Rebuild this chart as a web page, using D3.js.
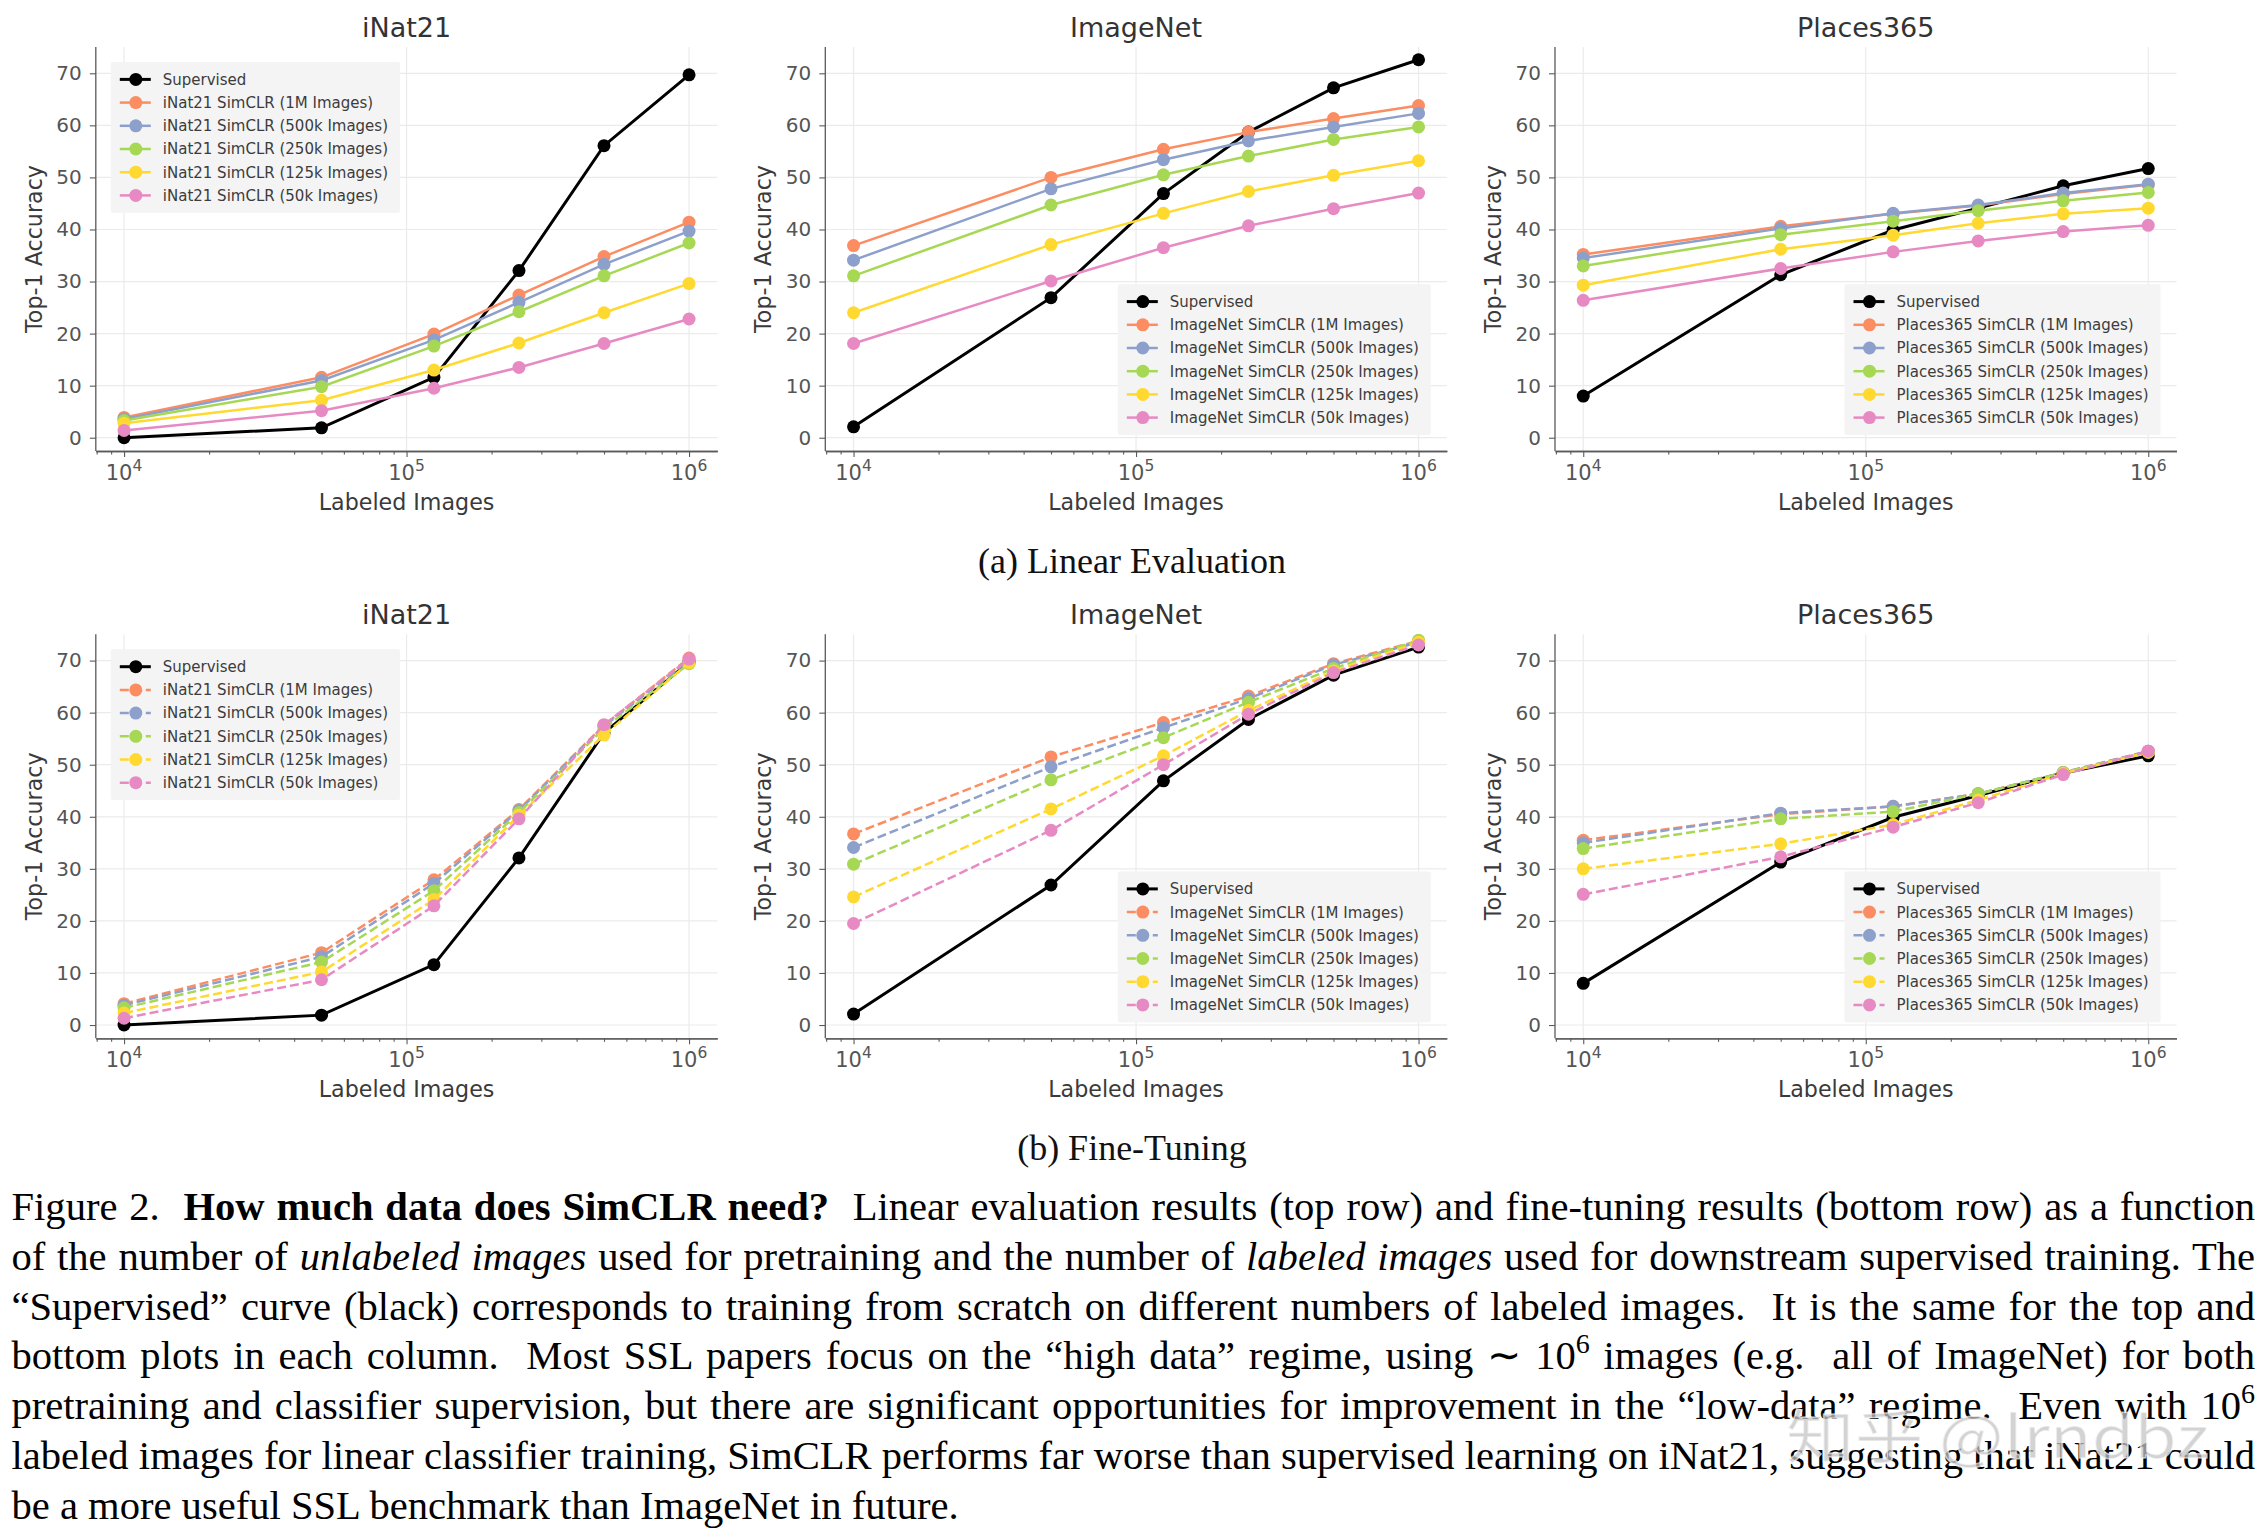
<!DOCTYPE html>
<html><head><meta charset="utf-8">
<script src="https://cdn.jsdelivr.net/npm/d3@7/dist/d3.min.js"></script>
<style>body{margin:0;background:#fff}svg{display:block}</style>
</head><body>
<svg id="chart" width="2264" height="1534"></svg>
<script>
// ---------------- data ----------------
const labeledImages = [1e4, 5e4, 1.25e5, 2.5e5, 5e5, 1e6];
const datasets = ["iNat21", "ImageNet", "Places365"];
const pretrainSizes = ["1M", "500k", "250k", "125k", "50k"];
const yTickValues = [0, 10, 20, 30, 40, 50, 60, 70];
const xTickExponents = [4, 5, 6];

const supervisedINat21 = [0.0, 1.9, 11.6, 32.1, 56.1, 69.7];
const supervisedImageNet = [2.1, 26.9, 46.9, 58.7, 67.2, 72.6];
const supervisedPlaces365 = [8.0, 31.3, 39.9, 44.1, 48.4, 51.7];

const linearINat21 = [
  [3.9, 11.6, 19.9, 27.4, 34.8, 41.4],
  [3.6, 11.0, 18.8, 26.0, 33.3, 39.7],
  [3.3, 9.8, 17.6, 24.2, 31.1, 37.4],
  [2.8, 7.2, 13.0, 18.2, 24.0, 29.6],
  [1.4, 5.2, 9.5, 13.5, 18.1, 22.8]];
const linearImageNet = [
  [36.9, 50.0, 55.4, 58.7, 61.3, 63.8],
  [34.1, 47.8, 53.4, 57.0, 59.7, 62.3],
  [31.1, 44.7, 50.5, 54.1, 57.3, 59.7],
  [24.0, 37.1, 43.1, 47.3, 50.4, 53.2],
  [18.1, 30.1, 36.5, 40.7, 44.0, 47.0]];
const linearPlaces365 = [
  [35.2, 40.6, 43.0, 44.6, 46.8, 48.6],
  [34.5, 40.2, 43.1, 44.7, 47.0, 48.7],
  [33.0, 39.0, 41.6, 43.6, 45.5, 47.1],
  [29.3, 36.2, 38.9, 41.2, 43.0, 44.1],
  [26.4, 32.5, 35.7, 37.8, 39.6, 40.8]];
const fineTuneINat21 = [
  [4.1, 13.9, 27.9, 41.4, 57.6, 70.5],
  [3.8, 13.1, 27.2, 41.2, 57.4, 70.0],
  [3.3, 12.1, 25.8, 40.8, 57.0, 69.4],
  [2.3, 10.2, 24.1, 40.3, 55.7, 69.6],
  [1.3, 8.7, 22.9, 39.6, 57.7, 70.3]];
const fineTuneImageNet = [
  [36.7, 51.5, 58.1, 63.2, 69.4, 73.8],
  [34.1, 49.6, 57.1, 62.7, 69.2, 73.5],
  [30.9, 47.1, 55.2, 62.0, 68.5, 73.9],
  [24.6, 41.5, 51.7, 60.4, 68.0, 73.5],
  [19.5, 37.4, 50.0, 59.7, 67.7, 73.0]];
const fineTunePlaces365 = [
  [35.5, 40.5, 42.0, 44.4, 48.5, 52.6],
  [35.0, 40.7, 42.0, 44.4, 48.5, 52.6],
  [33.9, 39.6, 41.0, 44.4, 48.5, 52.4],
  [30.0, 34.8, 38.5, 43.2, 48.3, 52.4],
  [25.1, 32.3, 38.0, 42.7, 48.1, 52.6]];

const subCaptions = ["(a) Linear Evaluation", "(b) Fine-Tuning"];

// ---------------- style / layout ----------------
const seriesColors = ["#000000", "#fc8d62", "#8da0cb", "#a6d854", "#ffd92f", "#e78ac3"];
const panelLefts = [95.8, 825.3, 1555];
const panelWidth = 621.5;
const rowTops = [47, 634.3];
const panelHeight = 404;
const SANS = "'DejaVu Sans', sans-serif";
const SERIF = "'Liberation Serif', 'Times New Roman', serif";

const svg = d3.select("#chart");
svg.append("rect").attr("width", 2264).attr("height", 1534).attr("fill", "#fff");

const supervisedAll = [supervisedINat21, supervisedImageNet, supervisedPlaces365];
const sslAll = [[linearINat21, linearImageNet, linearPlaces365],
                [fineTuneINat21, fineTuneImageNet, fineTunePlaces365]];

function drawPanel(row, col) {
  const left = panelLefts[col], top = rowTops[row];
  const right = left + panelWidth, bottom = top + panelHeight;
  const x = d3.scaleLog().domain([Math.pow(10, 3.9), Math.pow(10, 6.1)]).range([left, right]);
  const y = d3.scaleLinear().domain([-2.55, 75.05]).range([bottom, top]);
  const g = svg.append("g");

  // grid
  g.append("g").selectAll("line").data(yTickValues).join("line")
    .attr("x1", left).attr("x2", right).attr("y1", d => y(d)).attr("y2", d => y(d))
    .attr("stroke", "#ebebeb").attr("stroke-width", 1.2);
  g.append("g").selectAll("line").data(xTickExponents).join("line")
    .attr("x1", d => x(Math.pow(10, d))).attr("x2", d => x(Math.pow(10, d)))
    .attr("y1", top).attr("y2", bottom)
    .attr("stroke", "#ebebeb").attr("stroke-width", 1.2);

  // axes
  const majors = xTickExponents.map(e => Math.pow(10, e));
  const minors = [];
  for (let e = 3; e <= 6; e++) for (let m = 2; m <= 9; m++) {
    const v = m * Math.pow(10, e);
    if (v > x.domain()[0] && v < x.domain()[1]) minors.push(v);
  }
  const axColor = "#5a5a5a";
  const xMinor = g.append("g").attr("transform", `translate(0,${bottom})`)
    .call(d3.axisBottom(x).tickValues(minors).tickFormat("").tickSize(3.5).tickSizeOuter(0));
  const xMajor = g.append("g").attr("transform", `translate(0,${bottom})`)
    .call(d3.axisBottom(x).tickValues(majors).tickFormat("").tickSize(6).tickSizeOuter(0));
  [xMinor, xMajor].forEach(a => {
    a.select(".domain").attr("stroke", axColor).attr("stroke-width", 1.3);
    a.selectAll(".tick line").attr("stroke", axColor).attr("stroke-width", 1.1);
  });
  // x tick labels with superscript exponents
  const xl = g.append("g").selectAll("text").data(xTickExponents).join("text")
    .attr("x", d => x(Math.pow(10, d))).attr("y", bottom + 29)
    .attr("text-anchor", "middle").attr("font-family", SANS)
    .attr("font-size", 21).attr("fill", "#555");
  xl.append("tspan").text("10");
  xl.append("tspan").attr("font-size", 15.5).attr("dy", -9.5).text(d => d);

  const yAx = g.append("g").attr("transform", `translate(${left},0)`)
    .call(d3.axisLeft(y).tickValues(yTickValues).tickSize(6).tickPadding(8).tickSizeOuter(0));
  yAx.select(".domain").attr("stroke", axColor).attr("stroke-width", 1.3)
    .attr("d", `M0,${top}V${bottom}`);
  yAx.selectAll(".tick line").attr("stroke", axColor).attr("stroke-width", 1.1);
  yAx.selectAll(".tick text").attr("font-family", SANS).attr("font-size", 20).attr("fill", "#555");

  // titles and labels
  g.append("text").attr("x", (left + right) / 2).attr("y", top - 10)
    .attr("text-anchor", "middle").attr("font-family", SANS).attr("font-size", 27)
    .attr("fill", "#333").text(datasets[col]);
  g.append("text").attr("x", (left + right) / 2).attr("y", bottom + 59)
    .attr("text-anchor", "middle").attr("font-family", SANS).attr("font-size", 22.2)
    .attr("fill", "#3a3a3a").text("Labeled Images");
  g.append("text").attr("transform", `translate(${left - 54},${(top + bottom) / 2}) rotate(-90)`)
    .attr("text-anchor", "middle").attr("font-family", SANS).attr("font-size", 22.2)
    .attr("fill", "#3a3a3a").text("Top-1 Accuracy");

  // series
  const series = [{ name: "Supervised", values: supervisedAll[col], color: seriesColors[0], dashed: false, width: 3 }];
  sslAll[row][col].forEach((vals, i) => series.push({
    name: `${datasets[col]} SimCLR (${pretrainSizes[i]} Images)`,
    values: vals, color: seriesColors[i + 1], dashed: row === 1, width: 2.5 }));

  const line = d3.line().x(d => x(d[0])).y(d => y(d[1]));
  series.forEach(s => {
    const pts = labeledImages.map((v, i) => [v, s.values[i]]);
    g.append("path").attr("d", line(pts)).attr("fill", "none")
      .attr("stroke", s.color).attr("stroke-width", s.width)
      .attr("stroke-dasharray", s.dashed ? "9,4" : null);
    g.append("g").selectAll("circle").data(pts).join("circle")
      .attr("cx", d => x(d[0])).attr("cy", d => y(d[1])).attr("r", 6.5)
      .attr("fill", s.color);
  });

  // legend
  const lg = g.append("g");
  const bg = lg.append("rect").attr("fill", "#f4f4f4").attr("rx", 2);
  const rowH = 23.2, padTop = 17.4;
  const texts = [];
  series.forEach((s, i) => {
    const cy = padTop + i * rowH;
    lg.append("line").attr("x1", 9).attr("x2", 40).attr("y1", cy).attr("y2", cy)
      .attr("stroke", s.color).attr("stroke-width", s.width)
      .attr("stroke-dasharray", s.dashed ? "9,4" : null);
    lg.append("circle").attr("cx", 25).attr("cy", cy).attr("r", 6.5).attr("fill", s.color);
    texts.push(lg.append("text").attr("x", 52).attr("y", cy).attr("dy", "0.36em")
      .attr("font-family", SANS).attr("font-size", 15).attr("fill", "#3c3c3c").text(s.name));
  });
  const maxW = d3.max(texts, t => t.node().getComputedTextLength());
  const bw = 52 + maxW + 12, bh = padTop * 2 + (series.length - 1) * rowH;
  bg.attr("width", bw).attr("height", bh);
  if (col === 0) lg.attr("transform", `translate(${left + 15},${top + 15})`);
  else lg.attr("transform", `translate(${right - 16 - bw},${bottom - 16 - bh})`);
}

for (let r = 0; r < 2; r++) for (let c = 0; c < 3; c++) drawPanel(r, c);

// sub captions
[573, 1160].forEach((yy, i) => {
  svg.append("text").attr("x", 1132).attr("y", yy).attr("text-anchor", "middle")
    .attr("font-family", SERIF).attr("font-size", 36).attr("fill", "#111").text(subCaptions[i]);
});

// ---------------- figure caption ----------------
const captionLines = [
  [["Figure 2.  ", ""], ["How much data does SimCLR need?", "b"], ["  Linear evaluation results (top row) and fine-tuning results (bottom row) as a function", ""]],
  [["of the number of ", ""], ["unlabeled images", "i"], [" used for pretraining and the number of ", ""], ["labeled images", "i"], [" used for downstream supervised training. The", ""]],
  [["\u201CSupervised\u201D curve (black) corresponds to training from scratch on different numbers of labeled images.  It is the same for the top and", ""]],
  [["bottom plots in each column.  Most SSL papers focus on the \u201Chigh data\u201D regime, using \u223C 10", ""], ["6", "sup"], [" images (e.g.  all of ImageNet) for both", "ret"]],
  [["pretraining and classifier supervision, but there are significant opportunities for improvement in the \u201Clow-data\u201D regime.  Even with 10", ""], ["6", "sup"]],
  [["labeled images for linear classifier training, SimCLR performs far worse than supervised learning on iNat21, suggesting that iNat21 could", ""]],
  [["be a more useful SSL benchmark than ImageNet in future.", ""]]
];
const capLeft = 11.5, capRight = 2255, capBase = 1220, capStep = 49.8;
captionLines.forEach((parts, li) => {
  const t = svg.append("text").attr("x", capLeft).attr("y", capBase + li * capStep)
    .attr("font-family", SERIF).attr("font-size", 40.6).attr("fill", "#000")
    .style("white-space", "pre");
  parts.forEach(([txt, kind]) => {
    const ts = t.append("tspan").text(txt);
    if (kind === "b") ts.attr("font-weight", "bold");
    if (kind === "i") ts.attr("font-style", "italic");
    if (kind === "sup") ts.attr("font-size", 28).attr("dy", -16);
    if (kind === "ret") ts.attr("dy", 16);
  });
  if (li < captionLines.length - 1) {
    const natural = t.node().getComputedTextLength();
    const spaces = (t.text().match(/ /g) || []).length;
    t.style("word-spacing", ((capRight - capLeft - natural) / spaces) + "px");
  }
});

// watermark (semi-transparent overlay, as in the reference)
svg.append("text").attr("x", 1786).attr("y", 1458)
  .attr("font-family", "'Noto Sans CJK SC', sans-serif").attr("font-size", 58)
  .attr("textLength", 423).attr("lengthAdjust", "spacingAndGlyphs")
  .attr("fill", "#c4c4c4").attr("fill-opacity", 0.75)
  .attr("stroke", "#ffffff").attr("stroke-width", 1.5).attr("stroke-opacity", 0.6)
  .text("知乎 @lrndbz");
</script>
</body></html>
